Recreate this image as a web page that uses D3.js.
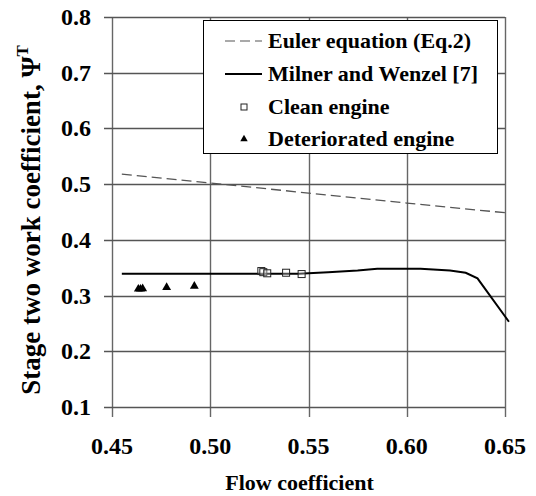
<!DOCTYPE html>
<html>
<head>
<meta charset="utf-8">
<script src="https://cdn.jsdelivr.net/npm/d3@7"></script>
<style>
  html, body { margin: 0; padding: 0; background: #fff; }
  svg text { font-family: "Liberation Serif", "Times New Roman", serif; font-weight: bold; fill: #000; }
</style>
</head>
<body>
<svg id="chart" width="536" height="496"></svg>
<script>
// ---- data ----
const xTicks = [0.45, 0.50, 0.55, 0.60, 0.65];
const yTicks = [0.1, 0.2, 0.3, 0.4, 0.5, 0.6, 0.7, 0.8];
const eulerX = [0.455, 0.50, 0.55, 0.60, 0.652];
const eulerY = [0.518, 0.502, 0.484, 0.466, 0.448];
const milnerX = [0.455, 0.545, 0.56, 0.575, 0.585, 0.607, 0.622, 0.63, 0.636, 0.652];
const milnerY = [0.339, 0.339, 0.342, 0.345, 0.348, 0.348, 0.345, 0.341, 0.331, 0.253];
const cleanX = [0.526, 0.527, 0.529, 0.5386, 0.5465];
const cleanY = [0.344, 0.342, 0.340, 0.341, 0.3386];
const detX = [0.4634, 0.4645, 0.4656, 0.4778, 0.4919];
const detY = [0.3117, 0.3117, 0.3125, 0.3147, 0.317];
const legendLabels = ["Euler equation (Eq.2)", "Milner and Wenzel [7]", "Clean engine", "Deteriorated engine"];
const xTitle = "Flow coefficient";
const yTitle = "Stage two work coefficient,  \u03A8";

// ---- layout ----
const svg = d3.select("#chart");
const x = d3.scaleLinear().domain([0.45, 0.65]).range([112, 505]);
const y = d3.scaleLinear().domain([0.1, 0.8]).range([407, 17]);

// grid
const grid = svg.append("g");
grid.selectAll("line.v").data(xTicks).join("line")
  .attr("x1", d => Math.round(x(d)) + 0.5).attr("x2", d => Math.round(x(d)) + 0.5)
  .attr("y1", y(0.8)).attr("y2", y(0.1) + 10)
  .attr("stroke", "#666").attr("stroke-width", 1.4);
grid.selectAll("line.h").data(yTicks).join("line")
  .attr("x1", x(0.45) - 8).attr("x2", x(0.65))
  .attr("y1", d => Math.round(y(d)) + 0.5).attr("y2", d => Math.round(y(d)) + 0.5)
  .attr("stroke", "#555").attr("stroke-width", 1.3);

// tick labels
const fx = d3.format(".2f"), fy = d3.format(".1f");
svg.append("g").selectAll("text").data(xTicks).join("text")
  .attr("x", d => x(d)).attr("y", y(0.1) + 47)
  .attr("text-anchor", "middle").style("font-size", "24px").text(d => fx(d));
svg.append("g").selectAll("text").data(yTicks).join("text")
  .attr("x", x(0.45) - 21).attr("y", d => y(d) + 8)
  .attr("text-anchor", "end").style("font-size", "24px").text(d => fy(d));

// euler dashed
const line = d3.line().x(d => x(d[0])).y(d => y(d[1]));
svg.append("path").datum(d3.zip(eulerX, eulerY)).attr("d", line)
  .attr("fill", "none").attr("stroke", "#555").attr("stroke-width", 1.3)
  .attr("stroke-dasharray", "10,5");

// milner
svg.append("path").datum(d3.zip(milnerX, milnerY)).attr("d", line)
  .attr("fill", "none").attr("stroke", "#000").attr("stroke-width", 2);

// clean squares
svg.append("g").selectAll("rect").data(d3.zip(cleanX, cleanY)).join("rect")
  .attr("x", d => x(d[0]) - 3.5).attr("y", d => y(d[1]) - 3.5)
  .attr("width", 7).attr("height", 7)
  .attr("fill", "#fff").attr("fill-opacity", 0.3).attr("stroke", "#222").attr("stroke-width", 1);

// deteriorated triangles
const tri = d3.symbol().type(d3.symbolTriangle).size(34);
svg.append("g").selectAll("path").data(d3.zip(detX, detY)).join("path")
  .attr("transform", d => `translate(${x(d[0])},${y(d[1])})`)
  .attr("d", tri).attr("fill", "#000");

// legend
const lg = svg.append("g");
lg.append("rect").attr("x", 203.5).attr("y", 20.5).attr("width", 294).attr("height", 133)
  .attr("fill", "#fff").attr("stroke", "#000").attr("stroke-width", 1);
const rowY = [41, 74, 107, 139];
legendLabels.forEach((t, i) => {
  lg.append("text").attr("x", 268).attr("y", rowY[i] + 7).style("font-size", "22px").text(t);
});
lg.append("line").attr("x1", 225).attr("x2", 262).attr("y1", rowY[0]).attr("y2", rowY[0])
  .attr("stroke", "#555").attr("stroke-width", 1.2).attr("stroke-dasharray", "10,5");
lg.append("line").attr("x1", 225).attr("x2", 262).attr("y1", rowY[1]).attr("y2", rowY[1])
  .attr("stroke", "#000").attr("stroke-width", 2);
lg.append("rect").attr("x", 241).attr("y", rowY[2] - 3).attr("width", 6).attr("height", 6)
  .attr("fill", "#fff").attr("stroke", "#222").attr("stroke-width", 1);
lg.append("path").attr("transform", `translate(244,${rowY[3]})`)
  .attr("d", d3.symbol().type(d3.symbolTriangle).size(24)).attr("fill", "#000");

// titles
svg.append("text").attr("x", (x(0.45) + x(0.65)) / 2 - 9).attr("y", 490)
  .attr("text-anchor", "middle").style("font-size", "22px").text(xTitle);
const yt = svg.append("text")
  .attr("transform", `translate(40,220) rotate(-90)`)
  .attr("text-anchor", "middle").style("font-size", "27px");
yt.append("tspan").text(yTitle);
yt.append("tspan").attr("dy", -12).style("font-size", "17px").text("T");
</script>
</body>
</html>
